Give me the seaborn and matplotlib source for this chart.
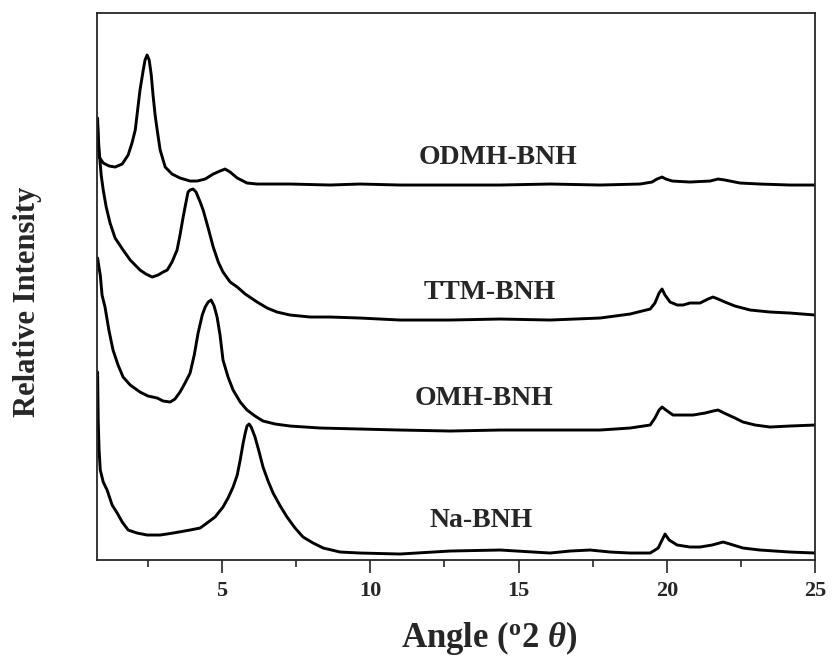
import numpy as np
import pandas as pd
import matplotlib
matplotlib.use("Agg")
import matplotlib.pyplot as plt
import seaborn as sns

# XRD patterns (2-theta in degrees, intensity in arbitrary units, already stacked)
odmh_angle = [0.80, 0.82, 0.85, 0.99, 1.19, 1.39, 1.63, 1.83, 1.96, 2.07, 2.17, 2.23, 2.34,
              2.40, 2.47, 2.54, 2.61, 2.67, 2.74, 2.81, 2.91, 3.08, 3.31, 3.58, 3.92, 4.16,
              4.43, 4.70, 4.93, 5.10, 5.27, 5.51, 5.84, 6.18, 7.29, 8.64, 9.65, 11.00, 12.69,
              14.38, 16.06, 17.75, 19.10, 19.50, 19.67, 19.84, 19.97, 20.18, 20.78, 21.46,
              21.73, 21.96, 22.47, 23.14, 24.15, 25.00]
odmh_int = [442, 420, 403, 397, 394, 393, 396, 405, 417, 430, 455, 470, 490,
            500, 505, 500, 485, 465, 445, 430, 410, 393, 386, 382, 379, 379,
            381, 386, 389, 391, 388, 382, 377, 376, 376, 375, 376, 375, 375,
            375, 376, 375, 376, 378, 381, 383, 381, 379, 378, 379,
            381, 380, 377, 376, 375, 375]

ttm_angle = [0.80, 0.85, 0.92, 0.99, 1.09, 1.22, 1.39, 1.66, 1.90, 2.23, 2.43, 2.64, 2.84,
             3.01, 3.15, 3.31, 3.48, 3.58, 3.68, 3.75, 3.85, 3.92, 4.02, 4.12, 4.26, 4.36,
             4.53, 4.70, 4.87, 5.03, 5.27, 5.51, 5.78, 6.18, 6.52, 6.85, 7.29, 7.97, 8.64,
             9.65, 11.00, 12.69, 14.38, 16.06, 17.75, 18.76, 19.44, 19.60, 19.74, 19.84,
             19.94, 20.11, 20.35, 20.55, 20.78, 21.12, 21.39, 21.56, 21.73, 21.96, 22.30,
             22.81, 23.48, 24.15, 25.00]
ttm_int = [435, 410, 385, 370, 353, 337, 322, 310, 300, 290, 286, 283, 285,
           288, 290, 298, 310, 325, 342, 353, 368, 370, 371, 368, 358, 350,
           332, 313, 298, 288, 278, 273, 266, 258, 252, 248, 245, 243, 243,
           242, 240, 240, 241, 240, 242, 246, 251, 257, 267, 271,
           265, 258, 255, 255, 257, 257, 261, 263, 261, 258, 254,
           250, 248, 247, 245]

omh_angle = [0.80, 0.85, 0.89, 0.95, 1.05, 1.18, 1.32, 1.49, 1.66, 1.90, 2.23, 2.50, 2.81,
             3.01, 3.25, 3.41, 3.58, 3.75, 3.92, 4.06, 4.19, 4.33, 4.43, 4.53, 4.63, 4.73,
             4.83, 4.93, 5.03, 5.20, 5.37, 5.61, 5.84, 6.11, 6.38, 6.79, 7.29, 8.31, 9.65,
             11.00, 12.69, 14.38, 16.06, 17.75, 18.76, 19.44, 19.60, 19.74, 19.84, 19.97,
             20.21, 20.55, 20.89, 21.29, 21.56, 21.73, 21.93, 22.30, 22.57, 22.98, 23.48,
             24.15, 25.00]
omh_int = [302, 292, 285, 265, 253, 230, 210, 195, 183, 175, 168, 164, 162,
           159, 158, 161, 168, 177, 187, 205, 227, 245, 253, 258, 260, 254,
           243, 225, 200, 183, 170, 158, 150, 144, 139, 136, 134, 132, 131,
           130, 129, 130, 130, 130, 132, 135, 142, 150, 153, 150,
           145, 145, 145, 147, 149, 150, 147, 142, 138, 135, 133,
           134, 135]

na_angle = [0.80, 0.82, 0.85, 0.89, 0.99, 1.12, 1.29, 1.46, 1.63, 1.83, 2.13, 2.47, 2.91,
            3.35, 3.92, 4.26, 4.49, 4.76, 5.03, 5.20, 5.37, 5.51, 5.61, 5.71, 5.78, 5.84,
            5.91, 5.98, 6.11, 6.25, 6.38, 6.55, 6.72, 6.96, 7.19, 7.46, 7.73, 8.07, 8.41,
            8.98, 9.65, 11.00, 12.69, 14.38, 16.06, 16.74, 17.41, 18.09, 18.76, 19.44,
            19.71, 19.84, 19.94, 20.08, 20.35, 20.78, 21.12, 21.53, 21.90, 22.13, 22.57,
            23.14, 24.15, 25.00]
na_int = [188, 140, 110, 90, 78, 70, 55, 47, 38, 30, 27, 25, 25,
          27, 30, 32, 37, 43, 53, 62, 73, 85, 100, 117, 127, 134,
          136, 133, 123, 108, 93, 79, 67, 54, 43, 32, 23, 17, 12,
          8, 7, 6, 9, 10, 7, 9, 10, 8, 7, 7,
          12, 20, 26, 20, 15, 13, 13, 15, 18, 16, 12,
          10, 8, 7]

samples = ["ODMH-BNH", "TTM-BNH", "OMH-BNH", "Na-BNH"]
label_angle = [14.29, 14.02, 13.84, 13.74]
label_int = [403, 268, 162, 40]

sns.set_style("ticks")
plt.rcParams["font.family"] = ["Liberation Serif", "DejaVu Serif"]
plt.rcParams["font.weight"] = "bold"
plt.rcParams["mathtext.fontset"] = "custom"
plt.rcParams["mathtext.rm"] = "Liberation Serif:bold"
plt.rcParams["mathtext.it"] = "Liberation Serif:italic:bold"

df = pd.concat([
    pd.DataFrame({"angle": a, "intensity": i, "sample": s})
    for s, a, i in zip(samples,
                       [odmh_angle, ttm_angle, omh_angle, na_angle],
                       [odmh_int, ttm_int, omh_int, na_int])
], ignore_index=True)

fig = plt.figure(figsize=(8.32, 6.58), dpi=100)
ax = fig.add_axes([0.1166, 0.1489, 0.8630, 0.8313])

sns.lineplot(data=df, x="angle", y="intensity", hue="sample", units="sample",
             palette=["black"] * 4, estimator=None, sort=False, legend=False,
             linewidth=2.1, ax=ax)

for s, x, y in zip(samples, label_angle, label_int):
    ax.text(x, y, s, ha="center", va="center", fontsize=20, fontweight="bold")

ax.set_xlim(0.78, 25)
ax.set_ylim(0, 547)
ax.set_yticks([])
ax.set_xticks([5, 10, 15, 20, 25])
ax.set_xticks([2.5, 7.5, 12.5, 17.5, 22.5], minor=True)
ax.tick_params(axis="x", which="major", direction="out", length=9, width=1.2,
               labelsize=16, pad=6)
ax.tick_params(axis="x", which="minor", direction="out", length=5, width=1.2)
for sp in ax.spines.values():
    sp.set_visible(True)
    sp.set_linewidth(1.3)
ax.set_xlabel("")
ax.set_ylabel("")

fig.text(0.588, 0.030, r"Angle ($^{\mathrm{o}}$2 $\mathit{\theta}$)", ha="center",
         va="center", fontsize=25, fontweight="bold")
fig.text(0.033, 0.541, "Relative Intensity", rotation=90, ha="center", va="center",
         fontsize=22, fontweight="bold")

fig.savefig("out.png", dpi=100)
